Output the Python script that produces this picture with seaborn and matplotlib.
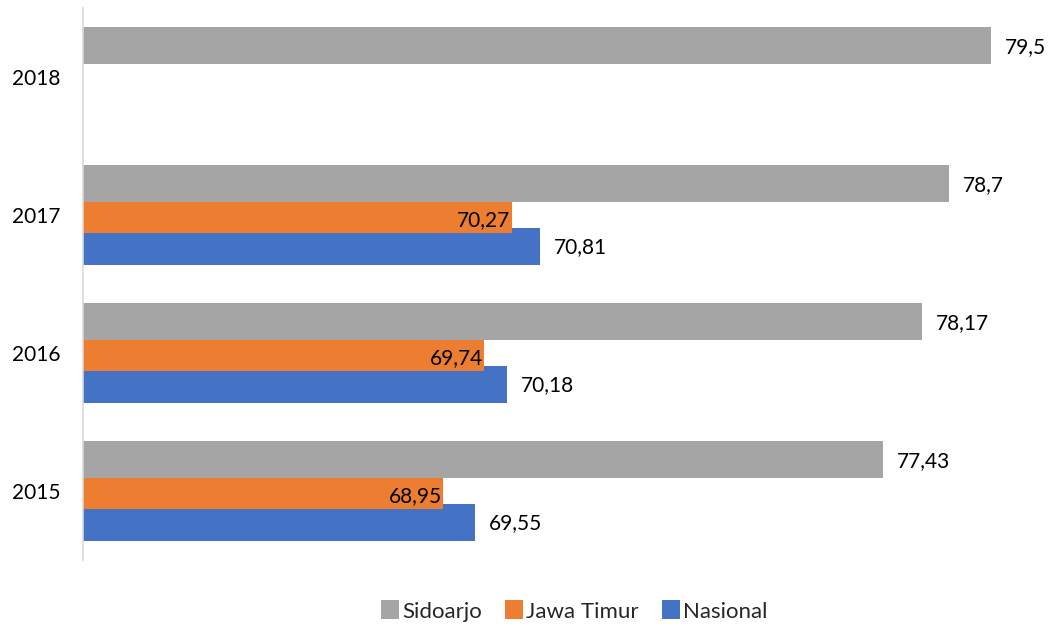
import matplotlib
matplotlib.use("Agg")
import matplotlib.pyplot as plt
from matplotlib.patches import Patch
import pandas as pd
import seaborn as sns

# Data
years = ["2018", "2017", "2016", "2015"]
regions = ["Sidoarjo", "Jawa Timur", "Nasional"]
sidoarjo = [79.5, 78.7, 78.17, 77.43]
jawa_timur = [None, 70.27, 69.74, 68.95]
nasional = [None, 70.81, 70.18, 69.55]

colors = {"Sidoarjo": "#A5A5A5", "Jawa Timur": "#ED7D31", "Nasional": "#4472C4"}

rows = []
for series_name, vals in zip(regions, [sidoarjo, jawa_timur, nasional]):
    for y, v in zip(years, vals):
        if v is not None:
            rows.append({"Tahun": y, "Nilai": v, "Wilayah": series_name})
df = pd.DataFrame(rows)

sns.set_theme(style="white")
plt.rcParams["font.family"] = ["Lato", "DejaVu Sans"]

fig = plt.figure(figsize=(10.48, 6.24), dpi=100)
ax = fig.add_axes([83 / 1048, 1 - 560 / 624, 959.4 / 1048, 552 / 624])

sns.barplot(data=df, y="Tahun", x="Nilai", hue="Wilayah", order=years,
            hue_order=regions, palette=colors, orient="h", dodge=True,
            width=0.675, saturation=1, errorbar=None, legend=False, ax=ax)

# Bars overlap slightly: taller than their dodge slot, later series underneath
bar_h = 0.268
zorders = {"Sidoarjo": 4, "Jawa Timur": 3, "Nasional": 2}
for name, cont in zip(regions, ax.containers):
    for p in cont.patches:
        cy = p.get_y() + p.get_height() / 2
        p.set_y(cy - bar_h / 2)
        p.set_height(bar_h)
        p.set_zorder(zorders[name])
        p.set_linewidth(0)

ax.set_xlim(62, 80.5)
ax.set_ylim(3.5, -0.5)


def fmt(v):
    return f"{v:g}".replace(".", ",")


FS = 15

# Value labels
for name, cont in zip(regions, ax.containers):
    for p in cont.patches:
        v = p.get_width()
        cy = p.get_y() + p.get_height() / 2
        if name == "Jawa Timur":
            ax.annotate(fmt(v), (v, cy), xytext=(-1, -4), textcoords="offset points",
                        ha="right", va="center", fontsize=FS, color="black", zorder=6)
        else:
            ax.annotate(fmt(v), (v, cy), xytext=(10, -1), textcoords="offset points",
                        ha="left", va="center", fontsize=FS, color="black", zorder=6)

ax.set_xlabel("")
ax.set_ylabel("")
ax.set_xticks([])
ax.tick_params(axis="y", length=0, pad=16, labelsize=FS, labelcolor="black")
for s in ["top", "right", "bottom"]:
    ax.spines[s].set_visible(False)
ax.spines["left"].set_color("#D9D9D9")
ax.spines["left"].set_linewidth(1.2)
ax.spines["left"].set_zorder(5)

handles = [Patch(facecolor=colors[r], edgecolor="none", label=r) for r in regions]
fig.legend(handles=handles, loc="center", bbox_to_anchor=(0.548, 0.021), ncol=3,
           frameon=False, fontsize=16, handlelength=0.8, handleheight=0.95,
           handletextpad=0.15, columnspacing=1.05)

fig.savefig("out.png", dpi=100)
